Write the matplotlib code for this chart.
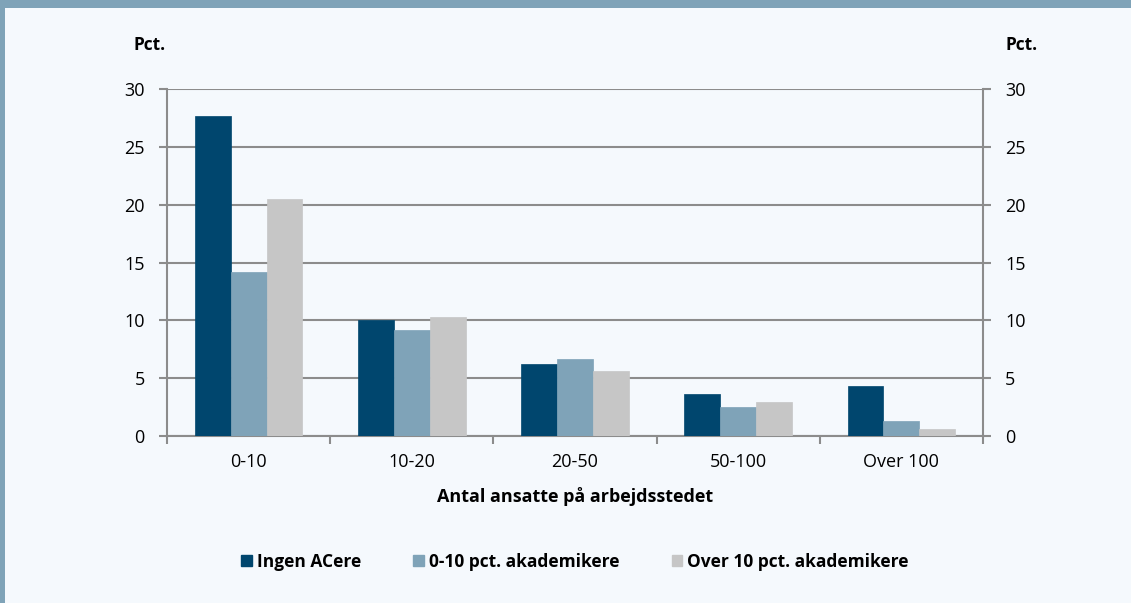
import matplotlib
matplotlib.use("Agg")
import matplotlib.pyplot as plt
from matplotlib.patches import Rectangle, Patch
import numpy as np

categories = ["0-10", "10-20", "20-50", "50-100", "Over 100"]
series_names = ["Ingen ACere", "0-10 pct. akademikere", "Over 10 pct. akademikere"]
ingen = [27.7, 10.0, 6.2, 3.6, 4.3]
lav = [14.2, 9.2, 6.7, 2.5, 1.3]
hoej = [20.5, 10.3, 5.6, 2.9, 0.6]
colors = ["#00466e", "#7fa3b8", "#c6c6c6"]
yticks = [0, 5, 10, 15, 20, 25, 30]

plt.rcParams['font.family'] = ['Open Sans', 'DejaVu Sans']
bg = "#f5f9fd"
grid_c = "#8c8c8c"

fig = plt.figure(figsize=(11.31, 6.03), dpi=100, facecolor=bg)
fig.patches.append(Rectangle((0, 1 - 8/603), 1, 8/603, transform=fig.transFigure,
                             facecolor="#7fa3b8", edgecolor="none", zorder=0))
fig.patches.append(Rectangle((0, 0), 5/1131, 1, transform=fig.transFigure,
                             facecolor="#7fa3b8", edgecolor="none", zorder=0))

ax = fig.add_axes([167/1131, 1 - 436/603, (983-167)/1131, (436-89)/603])
ax.set_facecolor(bg)

x = np.arange(len(categories))
w = 0.22
for i, (vals, c, name) in enumerate(zip([ingen, lav, hoej], colors, series_names)):
    ax.bar(x + (i - 1) * w, vals, width=w, color=c, edgecolor=c, linewidth=0.5,
           label=name, zorder=3)

ax.set_xlim(-0.5, len(categories) - 0.5)
ax.set_ylim(0, 30)
ax.set_yticks(yticks)
ax.yaxis.grid(True, color=grid_c, linewidth=1.5, zorder=1)
ax.set_axisbelow(True)

ax.set_xticks(np.arange(-0.5, len(categories), 1.0), minor=False)
ax.set_xticklabels([])
ax.set_xticks(x, minor=True)
ax.set_xticklabels(categories, minor=True, fontsize=13)
ax.tick_params(axis='x', which='minor', length=0, pad=12)
ax.tick_params(axis='x', which='major', length=6, color=grid_c, width=1.5, direction='out')

for s in ['top']:
    ax.spines[s].set_visible(False)
for s in ['left', 'right', 'bottom']:
    ax.spines[s].set_color(grid_c)
    ax.spines[s].set_linewidth(1.5)

ax.tick_params(axis='y', which='major', length=6, color=grid_c, width=1.5,
               labelsize=13, pad=10, left=True, right=True, labelleft=True, labelright=True)

ax.set_xlabel("Antal ansatte på arbejdsstedet", fontsize=13, fontweight='bold', labelpad=12)

fig.text(150/1131, 1 - 45/603, "Pct.", fontsize=12.5, fontweight='bold', ha='center', va='center')
fig.text(1022/1131, 1 - 45/603, "Pct.", fontsize=12.5, fontweight='bold', ha='center', va='center')

handles = [Patch(facecolor=c, edgecolor=c) for c in colors]
leg = fig.legend(handles, series_names, loc='center', bbox_to_anchor=(575/1131, 1 - 562/603),
                 ncol=3, frameon=False, handlelength=0.6, handleheight=0.6,
                 handletextpad=0.3, columnspacing=3.0, prop={'weight': 'bold', 'size': 12.5})

fig.savefig("out.png", dpi=100, facecolor=bg)
